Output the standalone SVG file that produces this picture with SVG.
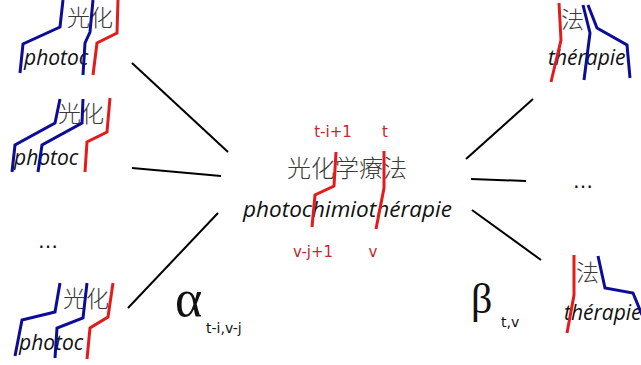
<svg xmlns="http://www.w3.org/2000/svg" width="641" height="365" viewBox="0 0 641 365">
<style>
.cjk{font-family:"Noto Sans CJK SC","Noto Sans CJK JP",sans-serif;font-size:23px;fill:#3a3a3a;font-weight:300}
.it{font-family:"Open Sans","Noto Sans",sans-serif;font-style:italic;font-size:21px;fill:#111}
.b{fill:none;stroke:#0c0c96;stroke-width:3}
.r{fill:none;stroke:#e21c1c;stroke-width:3}
.lab{font-family:"DejaVu Sans",sans-serif;font-size:15px;fill:#c0282d;text-anchor:middle}
.gr{font-family:"Liberation Serif",serif;font-size:42px;fill:#111}
.sub{font-family:"DejaVu Sans",sans-serif;font-size:14px;fill:#111}
.dots{font-family:"DejaVu Sans",sans-serif;font-size:20px;fill:#111;text-anchor:middle}
.c{stroke:#000;stroke-width:2;fill:none}
</style>
<g id="connectors">
<line class="c" x1="132" y1="63" x2="228" y2="152"/>
<line class="c" x1="132" y1="168" x2="221" y2="176"/>
<line class="c" x1="128" y1="308" x2="218" y2="213"/>
<line class="c" x1="533" y1="99" x2="466" y2="159"/>
<line class="c" x1="471" y1="179" x2="526" y2="181"/>
<line class="c" x1="472" y1="210" x2="541" y2="260"/>
</g>
<g id="center">
<text class="cjk" x="347" y="177" text-anchor="middle" style="font-size:24px">光化学療法</text>
<text class="it" x="243" y="217" textLength="209" lengthAdjust="spacingAndGlyphs">photochimiothérapie</text>
<polyline class="r" points="336,152 334,186 315,195 312,227"/>
<polyline class="r" points="384,151 384,188 376,229"/>
<text class="lab" x="333" y="137">t-i+1</text>
<text class="lab" x="385" y="137">t</text>
<text class="lab" x="313" y="257">v-j+1</text>
<text class="lab" x="373" y="257">v</text>
</g>
<g id="left1">
<text class="cjk" x="67" y="26">光化</text>
<text class="it" x="24" y="65">photoc</text>
<polyline class="b" points="63,0 60,27 23,44 20,73"/>
<polyline class="b" points="93,0 90,32 85,43 83,75"/>
<polyline class="r" points="118,0 117,33 97,43 93,75"/>
</g>
<g id="left2">
<text class="cjk" x="58" y="122">光化</text>
<text class="it" x="14" y="165">photoc</text>
<polyline class="b" points="60,99 55,123 15,145 12,172"/>
<polyline class="b" points="83,99 82,123 42,145 38,172"/>
<polyline class="r" points="110,98 107,132 87,142 85,172"/>
</g>
<g id="left-dots">
<text class="dots" x="48" y="248">…</text>
</g>
<g id="left3">
<text class="cjk" x="63" y="307">光化</text>
<text class="it" x="19" y="350">photoc</text>
<polyline class="b" points="60,283 55,312 22,320 15,356"/>
<polyline class="b" points="87,283 83,318 57,328 55,358"/>
<polyline class="r" points="113,283 108,317 90,328 87,359"/>
</g>
<g id="alpha">
<text class="gr" x="175" y="316" style="font-size:52px">α</text>
<text class="sub" x="206" y="333">t-i,v-j</text>
</g>
<g id="beta">
<text class="gr" x="471" y="313">β</text>
<text class="sub" x="501" y="327">t,v</text>
</g>
<g id="right1">
<text class="cjk" x="561" y="28">法</text>
<text class="it" x="548" y="65">thérapie</text>
<polyline class="r" points="559,3 561,40 551,82"/>
<polyline class="b" points="583,5 590,33 584,80"/>
<polyline class="b" points="588,5 597,28 627,45 630,78"/>
</g>
<g id="right-dots">
<text class="dots" x="583" y="188">…</text>
</g>
<g id="right2">
<text class="cjk" x="576" y="281">法</text>
<text class="it" x="564" y="320">thérapie</text>
<polyline class="r" points="574,255 574,295 567,333"/>
<polyline class="b" points="598,256 605,288 633,293 642,315"/>
</g>
</svg>
